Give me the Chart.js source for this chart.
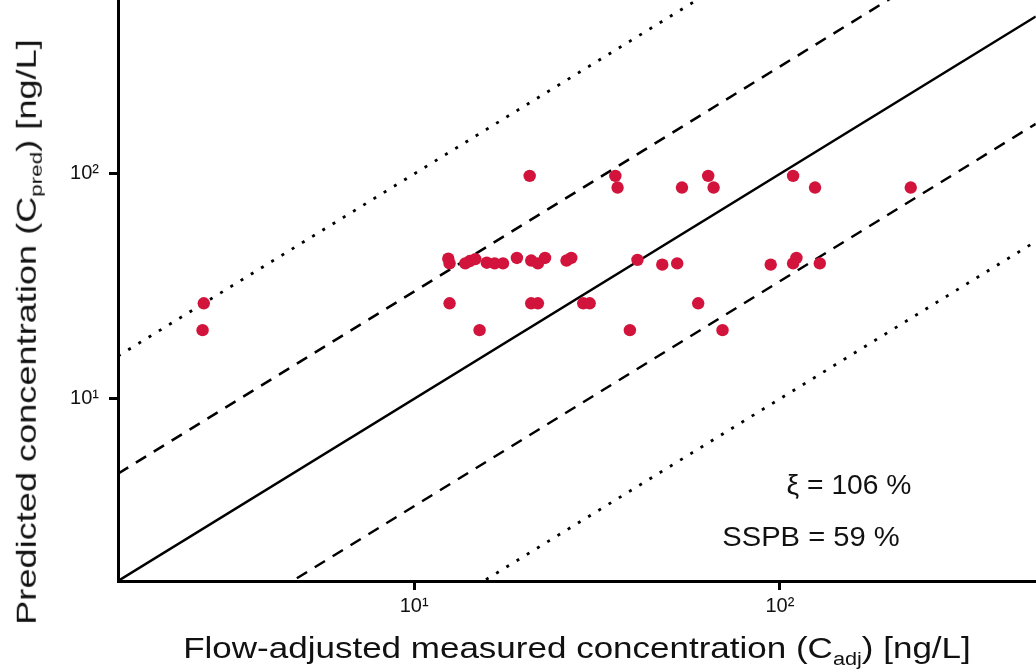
<!DOCTYPE html>
<html>
<head>
<meta charset="utf-8">
<script src="https://cdn.jsdelivr.net/npm/chart.js@4"></script>
<style>
  html, body { margin: 0; padding: 0; background: #fff; }
  #wrap { position: relative; width: 1036px; height: 672px; overflow: hidden; }
  #plot { position: absolute; left: 0; top: 0; }
  .lbl { position: absolute; font-family: "Liberation Sans", Arial, sans-serif; color: #111; white-space: nowrap; line-height: 1; }
  .lbl sub { font-size: 0.62em; vertical-align: -0.35em; }
  #xTitle { left: 577px; top: 651px; font-size: 29px; }
  #yTitle { left: 29px; top: 332px; font-size: 28px; }
  #xiNote { left: 849px; top: 485px; font-size: 28px; }
  #sspbNote { left: 811px; top: 537px; font-size: 28px; }
</style>
</head>
<body>
<div id="wrap">
  <canvas id="plot" width="1036" height="672"></canvas>
  <div class="lbl" id="xTitle" data-len="788">Flow-adjusted measured concentration (C<sub>adj</sub>) [ng/L]</div>
  <div class="lbl" id="yTitle" data-len="585" data-rot="-90">Predicted concentration (C<sub>pred</sub>) [ng/L]</div>
  <div class="lbl" id="xiNote" data-len="125">ξ = 106 %</div>
  <div class="lbl" id="sspbNote" data-len="177">SSPB = 59 %</div>
</div>
<script>
/* ─── Data ─────────────────────────────────────────────────────── */
const measured = [
  2.66, 2.64, 12.4, 12.5, 12.5, 13.8, 14.2, 14.7, 15.1, 15.8,
  16.6, 17.5, 19.1, 20.7, 20.9, 21.8, 22.8, 20.9, 21.8, 26.1,
  26.9, 29.0, 30.2, 35.5, 36.0, 38.9, 40.8, 47.7, 52.4, 54.0,
  59.8, 63.7, 65.9, 69.7, 94.4, 108.7, 111, 108.7, 124.8, 128.6,
  228
];
const predicted = [
  26.6, 20.2, 42.0, 40.0, 26.6, 40.0, 41.0, 41.8, 20.2, 40.3,
  40.0, 40.0, 42.3, 98.0, 41.2, 40.0, 42.3, 26.6, 26.6, 41.2,
  42.3, 26.6, 26.6, 98.0, 87.0, 20.2, 41.5, 39.5, 40.0, 87.0,
  26.6, 98.0, 87.0, 20.2, 39.5, 40.0, 42.3, 98.0, 87.0, 40.0,
  87.0
];

// reference lines y = f * x (1:1, factor 3, factor 10)
const lineFactors = [1, 3, 1 / 3, 10, 1 / 10];

const xRange     = [1.55, 501];
const yRange     = [1.55, 593];
const tickValues = [10, 100];
const tickLabels = ['10¹', '10²'];

/* ─── Styles ───────────────────────────────────────────────────── */
const pointColor = '#d2143c';
const lineStyle  = {
    1  : { dash: [],      width: 2.5 },
    3  : { dash: [12, 9], width: 2.5 },
    10 : { dash: [3, 9],  width: 2.8 },
};

function styleFor(f) {
    return lineStyle[Math.round(f >= 1 ? f : 1 / f)];
}

const points = measured.map((x, i) => ({ x, y: predicted[i] }));

const lineSets = lineFactors.map(f => ({
    data        : [{ x: xRange[0], y: xRange[0] * f }, { x: xRange[1], y: xRange[1] * f }],
    showLine    : true,
    borderColor : '#000',
    borderWidth : styleFor(f).width,
    borderDash  : styleFor(f).dash,
    pointRadius : 0,
    fill        : false,
}));

function logTicks(scale) {
    scale.ticks = tickValues.map(v => ({ value: v }));
}

function axisOpts(range, isX) {
    return {
        type : 'logarithmic',
        min  : range[0],
        max  : range[1],
        afterBuildTicks: logTicks,
        afterFit: s => { if (isX) s.height = 91; else s.width = 118; },
        border : { display: true, color: '#000', width: 3 },
        grid   : { drawOnChartArea: false, drawTicks: true, tickLength: 9, tickColor: '#000', tickWidth: 3 },
        ticks  : {
            color   : '#111',
            font    : { family: 'Liberation Sans', size: 20 },
            padding : isX ? 4 : 10,
            maxRotation: 0,
            callback: v => tickLabels[tickValues.indexOf(v)] || '',
        },
    };
}

function buildChart(canvas) {
    return new Chart(canvas, {
        type : 'scatter',
        data : {
            datasets: [{
                data             : points,
                backgroundColor  : pointColor,
                borderWidth      : 0,
                pointRadius      : 6.2,
                pointHoverRadius : 6.2,
            }].concat(lineSets),
        },
        options: {
            responsive : false,
            maintainAspectRatio: false,
            animation  : false,
            layout     : { padding: 0 },
            plugins    : { legend: { display: false }, tooltip: { enabled: false } },
            scales     : { x: axisOpts(xRange, true), y: axisOpts(yRange, false) },
        },
    });
}

/* ─── Build twice: first pass measures label padding so the plot
       area runs to the top and right edges of the page ─────────── */
const canvas = document.getElementById('plot');
let chart = buildChart(canvas);
const padTop   = chart.chartArea.top;
const padRight = chart.width - chart.chartArea.right;
chart.destroy();

canvas.width  = 1036 + padRight;
canvas.height = 672 + padTop;
canvas.style.top = (-padTop) + 'px';
chart = buildChart(canvas);

/* ─── Fit text labels to the lengths measured on the figure ────── */
document.querySelectorAll('.lbl').forEach(el => {
    const k   = parseFloat(el.dataset.len) / el.offsetWidth;
    const rot = el.dataset.rot ? ` rotate(${el.dataset.rot}deg)` : '';
    el.style.transform = `translate(-50%, -50%)${rot} scaleX(${k})`;
});
</script>
</body>
</html>
